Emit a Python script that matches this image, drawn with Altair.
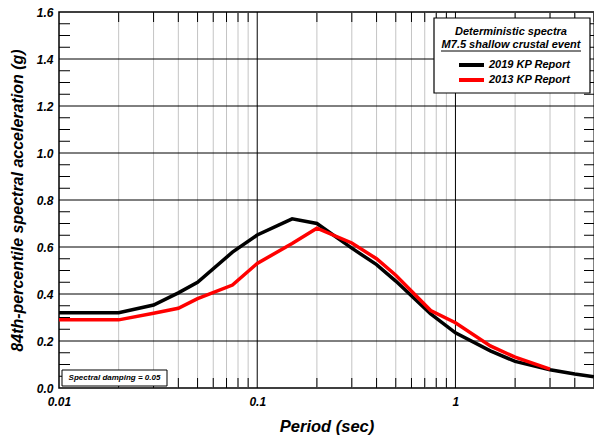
import altair as alt
import pandas as pd

# ---- data ----
periods_2019 = [0.01, 0.02, 0.03, 0.04, 0.05, 0.075, 0.1, 0.15, 0.2, 0.3, 0.4, 0.5, 0.75, 1.0, 1.5, 2.0, 3.0, 4.0, 5.0]
sa_2019 = [0.32, 0.32, 0.353, 0.405, 0.45, 0.578, 0.651, 0.72, 0.70, 0.595, 0.525, 0.455, 0.315, 0.235, 0.158, 0.113, 0.078, 0.06, 0.048]
periods_2013 = [0.01, 0.02, 0.03, 0.04, 0.05, 0.075, 0.1, 0.15, 0.2, 0.3, 0.4, 0.5, 0.75, 1.0, 1.5, 2.0, 3.0]
sa_2013 = [0.29, 0.29, 0.318, 0.339, 0.38, 0.438, 0.53, 0.615, 0.68, 0.617, 0.55, 0.48, 0.33, 0.278, 0.179, 0.131, 0.08]

x_labels = [0.01, 0.1, 1]
x_decades = [0.1, 1]
x_minor = [0.02, 0.03, 0.04, 0.05, 0.06, 0.07, 0.08, 0.09,
           0.2, 0.3, 0.4, 0.5, 0.6, 0.7, 0.8, 0.9,
           2, 3, 4, 5]
y_labels = [0.0, 0.2, 0.4, 0.6, 0.8, 1.0, 1.2, 1.4, 1.6]
y_major_grid = [0.2, 0.4, 0.6, 0.8, 1.0, 1.2, 1.4]
y_minor = [0.05, 0.1, 0.15, 0.25, 0.3, 0.35, 0.45, 0.5, 0.55, 0.65, 0.7, 0.75,
           0.85, 0.9, 0.95, 1.05, 1.1, 1.15, 1.25, 1.3, 1.35, 1.45, 1.5, 1.55]

series_names = ["2019 KP Report", "2013 KP Report"]
series_colors = ["#000000", "#ff0000"]

FONT = "Liberation Sans"
W, H = 535, 376

xscale = alt.Scale(type="log", domain=[0.01, 5], nice=False)
yscale = alt.Scale(domain=[0, 1.6], nice=False)
xaxis = alt.Axis(values=x_labels, format="~g", title="Period (sec)", grid=False,
                 ticks=False, domain=False, labelFlush=False, labelFont=FONT, labelFontSize=12,
                 labelFontWeight="bold", labelFontStyle="italic", labelColor="black",
                 labelPadding=8, titleFont=FONT, titleFontSize=16.5, titleFontWeight="bold",
                 titleFontStyle="italic", titleColor="black", titlePadding=11)
yaxis = alt.Axis(values=y_labels, format=".1f", title="84th-percentile spectral acceleration (g)",
                 grid=False, ticks=False, domain=False, labelFlush=False, labelFont=FONT, labelFontSize=12,
                 labelFontWeight="bold", labelFontStyle="italic", labelColor="black",
                 labelPadding=6, titleFont=FONT, titleFontSize=16, titleFontWeight="bold",
                 titleFontStyle="italic", titleColor="black", titlePadding=11)


def X(field):
    return alt.X(field, type="quantitative", scale=xscale, axis=xaxis)


def Y(field):
    return alt.Y(field, type="quantitative", scale=yscale, axis=yaxis)


one = pd.DataFrame({"a": [0]})

grid_minor = alt.Chart(pd.DataFrame({"x": x_minor})).mark_rule(color="#c4c4c4", strokeWidth=1).encode(x=X("x"))
grid_dec = alt.Chart(pd.DataFrame({"x": x_decades})).mark_rule(color="black", strokeWidth=1).encode(x=X("x"))
grid_h = alt.Chart(pd.DataFrame({"y": y_major_grid})).mark_rule(color="black", strokeWidth=1).encode(y=Y("y"))

top_ticks = alt.Chart(pd.DataFrame({"x": x_minor})).mark_rule(color="black", strokeWidth=1).encode(
    x=X("x"), y=alt.value(0), y2=alt.value(10))
bot_ticks = alt.Chart(pd.DataFrame({"x": x_minor})).mark_rule(color="black", strokeWidth=1).encode(
    x=X("x"), y=alt.value(H - 10), y2=alt.value(H))
left_ticks = alt.Chart(pd.DataFrame({"y": y_minor})).mark_rule(color="black", strokeWidth=1).encode(
    y=Y("y"), x=alt.value(0), x2=alt.value(11))
right_ticks = alt.Chart(pd.DataFrame({"y": y_minor})).mark_rule(color="black", strokeWidth=1).encode(
    y=Y("y"), x=alt.value(W - 10), x2=alt.value(W))

df = pd.concat([
    pd.DataFrame({"period": periods_2019, "sa": sa_2019, "series": series_names[0]}),
    pd.DataFrame({"period": periods_2013, "sa": sa_2013, "series": series_names[1]}),
])
lines = alt.Chart(df).mark_line(strokeWidth=3.5, clip=True).encode(
    x=X("period"), y=Y("sa"),
    color=alt.Color("series:N", scale=alt.Scale(domain=series_names, range=series_colors), legend=None),
    detail="series:N",
)

# legend box
leg_box = alt.Chart(one).mark_rect(fill="white", stroke="black", strokeWidth=1.2).encode(
    x=alt.value(375), x2=alt.value(531), y=alt.value(6), y2=alt.value(81))
leg_t1 = alt.Chart(one).mark_text(text="Deterministic spectra", font=FONT, fontSize=11,
                                  fontWeight="bold", fontStyle="italic", align="center",
                                  baseline="middle", color="black").encode(x=alt.value(452), y=alt.value(20))
leg_t2 = alt.Chart(one).mark_text(text="M7.5 shallow crustal event", font=FONT, fontSize=11,
                                  fontWeight="bold", fontStyle="italic", align="center",
                                  baseline="middle", color="black").encode(x=alt.value(452), y=alt.value(33))
leg_ul = alt.Chart(one).mark_rule(color="black", strokeWidth=1).encode(
    x=alt.value(382), x2=alt.value(522), y=alt.value(39))
leg_df = pd.DataFrame({"series": series_names, "yy": [53, 68]})
leg_lines = alt.Chart(leg_df).mark_rule(strokeWidth=4).encode(
    x=alt.value(400), x2=alt.value(425), y=alt.Y("yy:Q", scale=None, axis=None),
    color=alt.Color("series:N", scale=alt.Scale(domain=series_names, range=series_colors), legend=None))
leg_text = alt.Chart(leg_df).mark_text(font=FONT, fontSize=11, fontWeight="bold", fontStyle="italic",
                                       align="left", baseline="middle", color="black").encode(
    x=alt.value(430), y=alt.Y("yy:Q", scale=None, axis=None), text="series:N")

# damping box
damp_box = alt.Chart(one).mark_rect(fill="white", stroke="black", strokeWidth=1).encode(
    x=alt.value(3), x2=alt.value(108), y=alt.value(358), y2=alt.value(374))
damp_text = alt.Chart(one).mark_text(text="Spectral damping = 0.05", font=FONT, fontSize=8,
                                     fontWeight="bold", fontStyle="italic", align="center",
                                     baseline="middle", color="black").encode(x=alt.value(55.5), y=alt.value(366))

chart = alt.layer(
    grid_minor, grid_dec, grid_h, top_ticks, bot_ticks, left_ticks, right_ticks,
    lines, leg_box, leg_t1, leg_t2, leg_ul, leg_lines, leg_text, damp_box, damp_text,
).resolve_scale(y="shared").properties(
    width=W, height=H,
    padding={"left": 59, "top": 12, "right": 0, "bottom": 52},
    autosize=alt.AutoSizeParams(type="none"),
    background="white",
).configure_view(stroke="black", strokeWidth=1.5)

chart.save("out.html", embed_options={"renderer": "svg", "actions": False})
